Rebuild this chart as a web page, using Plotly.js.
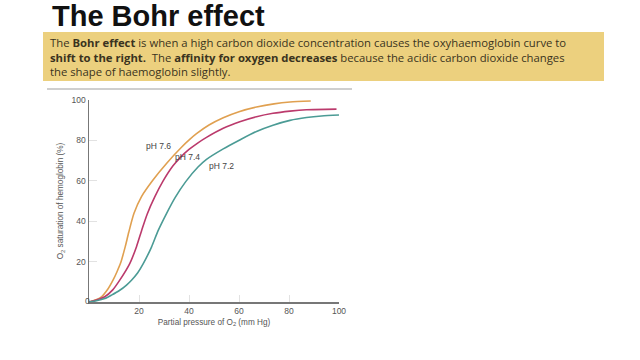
<!DOCTYPE html>
<html><head><meta charset="utf-8">
<script src="https://cdn.plot.ly/plotly-3.0.1.min.js"></script>
<style>html,body{margin:0;padding:0;background:#fff;}#c{width:640px;height:360px;}</style>
</head><body><div id="c"></div>
<script>
// Partial pressure of O2 (mm Hg) vs O2 saturation of hemoglobin (%)
const pH76_x = [0, 2.5, 5, 7.5, 9.6, 11.2, 12.7, 14.5, 15.9, 18, 21, 25.6, 31, 37, 40.4, 43, 48, 53.7, 60, 67, 74, 80.4, 88.7];
const pH76_y = [0, 1, 2.6, 6.3, 10.8, 15, 19.5, 27.4, 34.5, 43.9, 52.2, 60.4, 68.6, 76.6, 80.6, 83.3, 87.6, 91.2, 94.2, 96.5, 98.1, 99, 99.5];
const pH74_x = [0, 3, 6.3, 9.5, 12.3, 16.3, 19, 21, 23.3, 26.3, 29.6, 33.6, 36.5, 40, 43.6, 47, 53.7, 60.3, 67, 73.6, 80.4, 87, 99];
const pH74_y = [0, 1, 2.6, 6, 10.8, 19, 27.4, 35.2, 43.6, 52, 59.8, 67.4, 71.5, 75.5, 78.8, 81.5, 86, 89.2, 91.7, 93.4, 94.5, 95.2, 95.5];
const pH72_x = [0, 3, 6.3, 9, 12.3, 15, 17, 19.5, 21.7, 25, 27.6, 31, 34.5, 38.7, 43.6, 47, 53.7, 60.3, 67, 73.6, 80.4, 87, 93, 100];
const pH72_y = [0, 0.6, 1.7, 3.4, 5.8, 8.4, 10.8, 14.5, 19, 27.2, 35.2, 43.8, 51.8, 59.6, 66.8, 70.6, 75.8, 80.2, 84.4, 87.5, 89.9, 91.3, 92.1, 92.6];
const xTicks = [20, 40, 60, 80, 100];
const yTicks = [20, 40, 60, 80, 100];
const seriesNames = ["pH 7.6", "pH 7.4", "pH 7.2"];
const labelPos = [[27.6, 77], [39.2, 72], [53, 67.3]];

const colors = ["#e0a050", "#bb3a6c", "#4b9b95"];
const xs = [pH76_x, pH74_x, pH72_x];
const ys = [pH76_y, pH74_y, pH72_y];

const traces = xs.map((x, i) => ({
  x: x, y: ys[i], type: "scatter", mode: "lines", name: seriesNames[i],
  line: {color: colors[i], width: 1.6, shape: "spline", smoothing: 0.7},
  hoverinfo: "skip"
}));

// pixel helpers (plot area x 89..339, y 100..302)
const L = 89, R = 339, T = 100, B = 302;
const px = v => (v - L) / (R - L);
const py = v => (B - v) / (B - T);

const annotations = [];
seriesNames.forEach((n, i) => annotations.push({
  x: labelPos[i][0], y: labelPos[i][1], xref: "x", yref: "y", text: n, showarrow: false,
  font: {family: "Liberation Sans, Arial, sans-serif", size: 8.5, color: "#444"}
}));
annotations.push({x: px(83), y: py(307.5), xref: "paper", yref: "paper", text: "0", showarrow: false,
  font: {family: "Liberation Sans, Arial, sans-serif", size: 8.5, color: "#555"}});
annotations.push({x: px(50), y: py(16), xref: "paper", yref: "paper", xanchor: "left", yanchor: "middle",
  text: "<b>The Bohr effect</b>", showarrow: false,
  font: {family: "Liberation Sans, Arial, sans-serif", size: 29, color: "#111"}});
const bodyLines = [
  "The <b>Bohr effect</b> is when a high carbon dioxide concentration causes the oxyhaemoglobin curve to",
  "<b>shift to the right.</b>  The <b>affinity for oxygen decreases</b> because the acidic carbon dioxide changes",
  "the shape of haemoglobin slightly."
];
annotations.push({
  x: px(49), y: py(56.5), xref: "paper", yref: "paper", xanchor: "left", yanchor: "middle", align: "left",
  text: bodyLines.join("<br>"), showarrow: false, borderpad: 0,
  font: {family: "Open Sans, sans-serif", size: 11.3, color: "#3a3320"}
});

const layout = {
  width: 640, height: 360,
  margin: {l: L, r: 640 - R, t: T, b: 360 - B, pad: 0},
  paper_bgcolor: "#fff", plot_bgcolor: "#fff",
  showlegend: false,
  xaxis: {
    range: [0, 100], tickvals: xTicks, ticktext: xTicks.map(String),
    showgrid: false, zeroline: false, showline: true, linecolor: "#777", linewidth: 1.5,
    ticks: "inside", ticklen: 7, tickcolor: "#e2e2e2", tickwidth: 1,
    tickfont: {family: "Liberation Sans, Arial, sans-serif", size: 8.5, color: "#555"},
    title: {text: "Partial pressure of O<sub>2</sub> (mm Hg)", standoff: 4,
      font: {family: "Liberation Sans, Arial, sans-serif", size: 8.2, color: "#555"}}
  },
  yaxis: {
    range: [0, 100], tickvals: yTicks, ticktext: yTicks.map(String),
    showgrid: false, zeroline: false, showline: true, linecolor: "#777", linewidth: 1.5,
    ticks: "inside", ticklen: 8, tickcolor: "#e2e2e2", tickwidth: 1,
    tickfont: {family: "Liberation Sans, Arial, sans-serif", size: 8.5, color: "#555"},
    title: {text: "O<sub>2</sub> saturation of hemoglobin (%)", standoff: 6,
      font: {family: "Liberation Sans, Arial, sans-serif", size: 8.2, color: "#555"}}
  },
  shapes: [
    {type: "rect", xref: "paper", yref: "paper", x0: px(43), x1: px(604), y0: py(32), y1: py(81),
      fillcolor: "#ecd07e", line: {width: 0}, layer: "below"},
    {type: "line", xref: "paper", yref: "paper", x0: px(47), x1: px(352), y0: py(89), y1: py(89),
      line: {color: "#cfcfcf", width: 2}}
  ],
  annotations: annotations
};

Plotly.newPlot("c", traces, layout, {displayModeBar: false, staticPlot: true});
</script>
</body></html>
